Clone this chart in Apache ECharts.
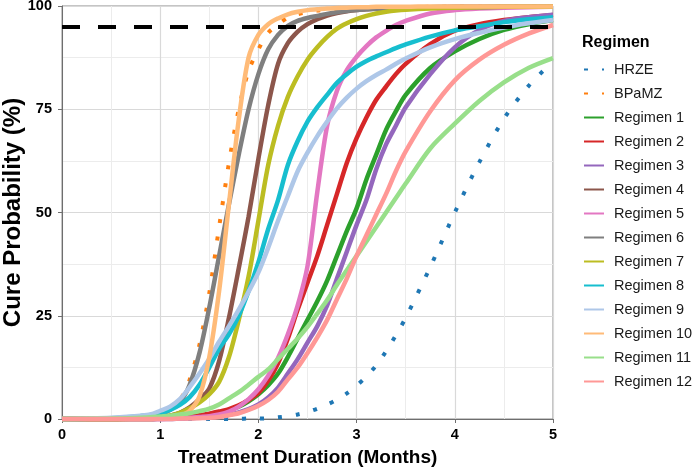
<!DOCTYPE html>
<html>
<head>
<meta charset="utf-8">
<script src="https://cdn.jsdelivr.net/npm/echarts@6/dist/echarts.min.js"></script>
<style>
  html, body { margin: 0; padding: 0; background: #fff; }
  #chart { width: 694px; height: 468px; }
</style>
</head>
<body>
<div id="chart"></div>
<script>
const months = [0, 0.5, 0.8, 0.9, 1.0, 1.1, 1.2, 1.3, 1.4, 1.5, 1.6, 1.7, 1.8, 1.9, 2.0, 2.1, 2.2, 2.3, 2.4, 2.5,
  2.6, 2.7, 2.8, 2.9, 3.0, 3.1, 3.2, 3.3, 3.4, 3.5, 3.75, 4.0, 4.25, 4.5, 4.75, 5.0];

// cure probability (%) per regimen
const hrze = [0, 0, 0, 0, 0, 0, 0, 0, 0, 0, 0, 0, 0.05, 0.1, 0.1, 0.2, 0.4, 0.7, 1.1, 1.7,
  2.5, 3.5, 4.7, 6.2, 8.1, 10.3, 13, 16.4, 20.3, 24.5, 36.8, 50, 62.2, 72.7, 80.6, 86.6];
const bpamz = [0, 0, 0.3, 0.6, 1.1, 2.2, 4.5, 9.5, 18, 30.5, 46.5, 62, 75, 84.3, 89.5, 93.5, 95.5, 97.2, 98, 98.5,
  98.9, 99.1, 99.3, 99.4, 99.5, 99.6, 99.6, 99.7, 99.7, 99.7, 99.8, 99.8, 99.8, 99.9, 99.9, 99.9];
const regimen1 = [0, 0, 0, 0, 0.1, 0.2, 0.3, 0.4, 0.7, 1, 1.5, 2.2, 3, 4.3, 6, 8.2, 11, 15, 19.5, 24,
  28.5, 33.5, 39.5, 45.5, 51, 58, 64, 70, 74.5, 78.5, 85, 89, 92, 94.2, 95.6, 96.6];
const regimen2 = [0, 0, 0, 0, 0.1, 0.2, 0.4, 0.6, 0.9, 1.3, 1.8, 2.4, 3.3, 4.6, 6.3, 9.3, 13.5, 19.5, 26.5, 33,
  39.5, 47, 54.5, 62, 68, 73, 77.3, 80.5, 83.5, 86, 90.8, 94, 95.6, 96.6, 97.3, 97.8];
const regimen3 = [0, 0, 0, 0, 0, 0, 0.1, 0.2, 0.3, 0.4, 0.6, 1, 1.6, 2.4, 3.5, 5.2, 7.6, 11, 14.5, 18.5,
  22.5, 27.5, 34, 40.5, 47, 53, 60.5, 66.5, 71, 75.5, 83.5, 90, 94.2, 96.4, 97.3, 97.9];
const regimen4 = [0, 0, 0.1, 0.2, 0.4, 0.8, 1.5, 2.8, 4.8, 7.4, 14, 24.5, 36.5, 49, 63, 76, 86, 91, 93.8, 95.6,
  96.8, 97.7, 98.3, 98.7, 99, 99.2, 99.4, 99.5, 99.6, 99.6, 99.7, 99.8, 99.8, 99.8, 99.8, 99.9];
const regimen5 = [0, 0, 0, 0, 0, 0.1, 0.2, 0.3, 0.5, 0.7, 1.1, 1.8, 3, 4.8, 7.2, 10.5, 14.8, 20.5, 27.5, 37,
  55, 71, 79.5, 84.5, 87.7, 90.3, 92.4, 94, 95.4, 96.4, 98.2, 99, 99.4, 99.6, 99.7, 99.8];
const regimen6 = [0, 0, 0.3, 0.6, 1.1, 2.2, 4, 8.3, 16, 27, 39.5, 52, 64, 75, 83.5, 89.5, 93, 95.2, 96.4, 97.1,
  97.6, 98.1, 98.5, 98.8, 99, 99.2, 99.3, 99.4, 99.5, 99.5, 99.6, 99.7, 99.7, 99.8, 99.8, 99.8];
const regimen7 = [0, 0, 0.1, 0.2, 0.4, 0.8, 1.5, 2.6, 4, 6, 9, 15, 24, 34.5, 48, 61.5, 71, 78, 83, 87,
  90, 92.5, 94.5, 95.8, 96.8, 97.6, 98.2, 98.6, 98.9, 99.1, 99.4, 99.6, 99.7, 99.8, 99.8, 99.9];
const regimen8 = [0, 0.2, 0.7, 1, 1.4, 2.2, 3.4, 5.3, 8.3, 12.5, 17, 20.5, 25, 31, 38, 46, 53, 61.5, 67.3, 72,
  75.5, 78.5, 81.4, 83.5, 85.3, 86.7, 87.8, 88.8, 89.8, 90.7, 92.6, 94.1, 95.1, 96.1, 96.8, 97.3];
const regimen9 = [0, 0.3, 0.8, 1.1, 2, 3, 4.8, 7.7, 11, 14.6, 18.7, 22.5, 26.5, 30.8, 35.5, 41.5, 48, 54, 60, 64.5,
  68.5, 72, 75.2, 77.8, 80, 81.8, 83.3, 84.6, 86, 87.3, 90, 92, 93.5, 94.8, 95.8, 96.6];
const regimen10 = [0, 0, 0, 0, 0.1, 0.3, 0.8, 2, 5.5, 15, 31, 52, 72.5, 87.5, 93, 95.6, 97, 98, 98.6, 99,
  99.2, 99.4, 99.5, 99.6, 99.7, 99.7, 99.8, 99.8, 99.8, 99.8, 99.9, 99.9, 99.9, 99.9, 99.9, 99.9];
const regimen11 = [0, 0.1, 0.3, 0.4, 0.6, 0.8, 1.1, 1.4, 1.9, 2.5, 3.5, 5, 6.5, 8.3, 10.2, 12, 14.5, 17, 19.5, 22.3,
  25.5, 28.8, 32.5, 36, 39.5, 43, 46.5, 50, 53.5, 57, 65.5, 71.5, 77, 81.5, 85, 87.4];
const regimen12 = [0, 0, 0, 0, 0, 0, 0.1, 0.1, 0.2, 0.3, 0.5, 0.9, 1.4, 2.2, 3.2, 4.6, 6.6, 9.6, 12.5, 16,
  19.8, 24, 29, 34, 39.5, 44.5, 49.5, 54.5, 60, 64.8, 74.5, 82, 87, 90.6, 93.3, 95.4];

const regimenNames = ['HRZE', 'BPaMZ', 'Regimen 1', 'Regimen 2', 'Regimen 3', 'Regimen 4', 'Regimen 5',
  'Regimen 6', 'Regimen 7', 'Regimen 8', 'Regimen 9', 'Regimen 10', 'Regimen 11', 'Regimen 12'];
const curves = [hrze, bpamz, regimen1, regimen2, regimen3, regimen4, regimen5,
  regimen6, regimen7, regimen8, regimen9, regimen10, regimen11, regimen12];
const colors = ['#1F77B4', '#FF7F0E', '#2CA02C', '#D62728', '#9467BD', '#8C564B', '#E377C2',
  '#7F7F7F', '#BCBD22', '#17BECF', '#AEC7E8', '#FFBB78', '#98DF8A', '#FF9896'];
const dotted = ['HRZE', 'BPaMZ'];
const cureTarget = 95;

const font = "'Liberation Sans', Arial, sans-serif";
const chart = echarts.init(document.getElementById('chart'), null, { renderer: 'canvas' });

const series = regimenNames.map((name, k) => {
  const s = {
    name: name,
    type: 'line',
    data: months.map((m, i) => [m, curves[k][i]]),
    symbol: 'none',
    showSymbol: false,
    smooth: 0.3,
    clip: false,
    color: colors[k],
    lineStyle: {
      width: dotted.includes(name) ? 4 : 4.5,
      color: colors[k],
      type: dotted.includes(name) ? [4, 14] : 'solid',
      cap: 'butt',
    },
    emphasis: { disabled: true },
  };
  if (k === regimenNames.length - 1) {
    s.markLine = {
      silent: true,
      symbol: 'none',
      label: { show: false },
      lineStyle: { color: '#000', width: 4, type: [18, 18] },
      data: [{ yAxis: cureTarget }],
    };
  }
  return s;
});

const option = {
  animation: false,
  title: {
    text: 'Regimen',
    left: 582,
    top: 35,
    padding: 0,
    textStyle: { fontFamily: font, fontWeight: 'bold', fontSize: 16, color: '#000' },
  },
  legend: {
    orient: 'vertical',
    left: 583,
    top: 62,
    padding: 0,
    itemWidth: 20,
    itemHeight: 14,
    itemGap: 9,
    data: regimenNames,
    itemStyle: { opacity: 0 },
    textStyle: { fontFamily: font, fontSize: 14.5, color: '#1a1a1a', lineHeight: 14, padding: [0, 0, 0, 5] },
  },
  grid: {
    left: 62,
    right: 141,
    top: 6,
    bottom: 49,
    outerBoundsMode: 'none',
    containLabel: false,
    show: true,
    borderColor: '#8a8a8a',
    borderWidth: 1,
  },
  xAxis: {
    type: 'value',
    min: 0,
    max: 5,
    interval: 1,
    name: 'Treatment Duration (Months)',
    nameLocation: 'middle',
    nameGap: 29,
    nameMoveOverlap: false,
    nameTextStyle: { fontFamily: font, fontWeight: 'bold', fontSize: 19, color: '#000' },
    axisLine: { lineStyle: { color: '#6e6e6e', width: 1 } },
    axisTick: { show: true, length: 4, lineStyle: { color: '#6e6e6e' } },
    axisLabel: { fontFamily: font, fontWeight: 'bold', fontSize: 14.5, color: '#000', margin: 8 },
    splitLine: { show: true, lineStyle: { color: '#d9d9d9', width: 1.2 } },
    minorTick: { show: false, splitNumber: 2 },
    minorSplitLine: { show: true, lineStyle: { color: '#ececec', width: 1 } },
  },
  yAxis: {
    type: 'value',
    min: 0,
    max: 100,
    interval: 25,
    name: 'Cure Probability (%)',
    nameLocation: 'middle',
    nameGap: 37,
    nameMoveOverlap: false,
    nameTextStyle: { fontFamily: font, fontWeight: 'bold', fontSize: 24, color: '#000' },
    axisLine: { show: true, lineStyle: { color: '#6e6e6e', width: 1 } },
    axisTick: { show: true, length: 4, lineStyle: { color: '#6e6e6e' } },
    axisLabel: { fontFamily: font, fontWeight: 'bold', fontSize: 14.5, color: '#000', margin: 10 },
    splitLine: { show: true, lineStyle: { color: '#d9d9d9', width: 1.2 } },
    minorTick: { show: false, splitNumber: 2 },
    minorSplitLine: { show: true, lineStyle: { color: '#ececec', width: 1 } },
  },
  series: series,
};

chart.setOption(option);
</script>
</body>
</html>
